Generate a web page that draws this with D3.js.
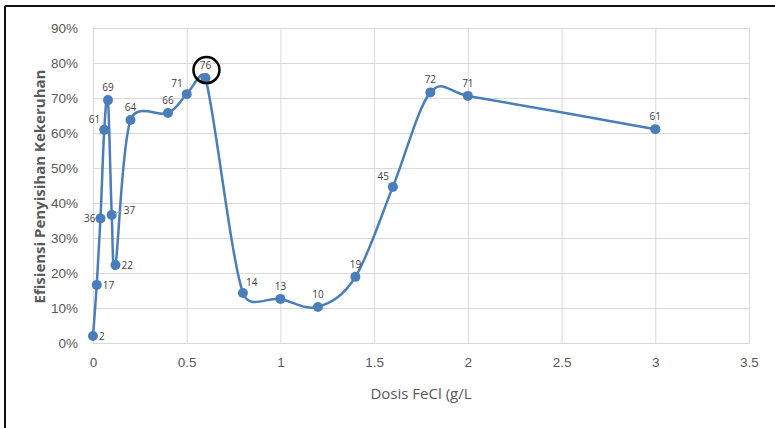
<!DOCTYPE html>
<html>
<head>
<meta charset="utf-8">
<script src="https://cdn.jsdelivr.net/npm/d3@7"></script>
<style>
  body { margin: 0; background: #fff; }
  svg { display: block; font-family: "Liberation Sans Narrow", "Open Sans", sans-serif; }
</style>
</head>
<body>
<svg width="775" height="428"></svg>
<script>
var svg = d3.select("svg");

// Data
var dosis = [0, 0.02, 0.04, 0.06, 0.08, 0.1, 0.12, 0.2, 0.4, 0.5, 0.6, 0.8, 1.0, 1.2, 1.4, 1.6, 1.8, 2.0, 3.0];
var efisiensi = [0.02, 0.166, 0.356, 0.609, 0.694, 0.366, 0.223, 0.637, 0.657, 0.711, 0.757, 0.143, 0.126, 0.103, 0.189, 0.446, 0.716, 0.706, 0.611];
var labelPos = ["r", "r", "l", "tl", "t", "rl", "r", "t", "t", "tl", "t", "tr", "t", "t", "t", "tl", "t", "t", "t"];
var xTicks = [0, 0.5, 1, 1.5, 2, 2.5, 3, 3.5];
var yTicks = [0, 0.1, 0.2, 0.3, 0.4, 0.5, 0.6, 0.7, 0.8, 0.9];

var data = dosis.map((d, i) => ({ x: d, y: efisiensi[i], pos: labelPos[i] }));

// Plot area
var margin = { top: 28, right: 26, bottom: 85, left: 93 };
var width = 775 - margin.left - margin.right;
var height = 428 - margin.top - margin.bottom;

var xScale = d3.scaleLinear().domain([0, 3.5]).range([0, width]);
var yScale = d3.scaleLinear().domain([0, 0.9]).range([height, 0]);

// Spreadsheet-style smoothing: bezier with 1/6 tangents, clamped to half a segment
function smoothCurve(context) {
    var pts;
    return {
        areaStart: function () {},
        areaEnd: function () {},
        lineStart: function () { pts = []; },
        point: function (x, y) { pts.push([+x, +y]); },
        lineEnd: function () {
            var n = pts.length;
            if (!n) return;
            context.moveTo(pts[0][0], pts[0][1]);
            var dist = (a, b) => Math.hypot(b[0] - a[0], b[1] - a[1]);
            for (var i = 0; i < n - 1; i++) {
                var p0 = pts[Math.max(i - 1, 0)], p1 = pts[i], p2 = pts[i + 1], p3 = pts[Math.min(i + 2, n - 1)];
                var d12 = dist(p1, p2), d02 = dist(p0, p2), d13 = dist(p1, p3);
                var f0 = (d02 / 6 < d12 / 2) ? 1 / 6 : d12 / (2 * d02);
                var f1 = (d13 / 6 < d12 / 2) ? 1 / 6 : d12 / (2 * d13);
                context.bezierCurveTo(
                    p1[0] + (p2[0] - p0[0]) * f0, p1[1] + (p2[1] - p0[1]) * f0,
                    p2[0] - (p3[0] - p1[0]) * f1, p2[1] - (p3[1] - p1[1]) * f1,
                    p2[0], p2[1]);
            }
        }
    };
}

// Frame around the figure
svg.append("line")
    .attr("x1", 5).attr("y1", 6).attr("x2", 775).attr("y2", 6)
    .attr("stroke", "#111").attr("stroke-width", 2);
svg.append("line")
    .attr("x1", 5).attr("y1", 6).attr("x2", 5).attr("y2", 428)
    .attr("stroke", "#111").attr("stroke-width", 2);

var chartG = svg.append("g")
    .attr("transform", "translate(" + margin.left + "," + margin.top + ")");

// Gridlines
chartG.append("g")
    .attr("class", "grid")
    .call(d3.axisLeft(yScale).tickValues(yTicks).tickSize(-width).tickFormat(""))
    .call(g => g.select(".domain").remove())
    .call(g => g.selectAll("line").attr("stroke", "#d9d9d9"));

chartG.append("g")
    .attr("class", "grid")
    .attr("transform", "translate(0," + height + ")")
    .call(d3.axisBottom(xScale).tickValues(xTicks).tickSize(-height).tickFormat(""))
    .call(g => g.select(".domain").remove())
    .call(g => g.selectAll("line").attr("stroke", "#d9d9d9"));

// Axes
var xAxis = chartG.append("g")
    .attr("transform", "translate(0," + height + ")")
    .call(d3.axisBottom(xScale).tickValues(xTicks).tickSize(0).tickPadding(14).tickFormat(d3.format("")));
xAxis.select(".domain").attr("stroke", "#d9d9d9");

var yAxis = chartG.append("g")
    .call(d3.axisLeft(yScale).tickValues(yTicks).tickSize(0).tickPadding(15).tickFormat(d3.format(".0%")));
yAxis.select(".domain").remove();

svg.selectAll(".tick text")
    .attr("fill", "#595959")
    .style("font-size", "13.5px");

// Axis titles
svg.append("text")
    .attr("x", margin.left + xScale(1.75))
    .attr("y", 399)
    .attr("text-anchor", "middle")
    .attr("fill", "#595959")
    .style("font-size", "15px")
    .text("Dosis FeCl (g/L");

svg.append("text")
    .attr("transform", "translate(45," + (margin.top + height / 2 + 1) + ") rotate(-90)")
    .attr("text-anchor", "middle")
    .attr("fill", "#595959")
    .style("font-size", "15px")
    .style("font-weight", "bold")
    .text("Efisiensi Penyisihan Kekeruhan");

// Smoothed line
var line = d3.line()
    .x(d => xScale(d.x))
    .y(d => yScale(d.y))
    .curve(smoothCurve);

chartG.append("path")
    .datum(data)
    .attr("fill", "none")
    .attr("stroke", "#4a7ebb")
    .attr("stroke-width", 2.5)
    .attr("d", line);

chartG.selectAll(".dot")
    .data(data)
    .enter().append("circle")
    .attr("class", "dot")
    .attr("cx", d => xScale(d.x))
    .attr("cy", d => yScale(d.y))
    .attr("r", 5)
    .attr("fill", "#4a7ebb");

// Data labels
var offsets = {
    t: [0, -9, "middle"],
    r: [6, 4, "start"],
    rl: [12, -1, "start"],
    l: [-5, 4, "end"],
    tl: [-4, -7, "end"],
    tr: [3, -7, "start"]
};

// leader line for the shifted label
chartG.selectAll(".leader")
    .data(data.filter(d => d.pos === "rl"))
    .enter().append("line")
    .attr("x1", d => xScale(d.x) + 3)
    .attr("y1", d => yScale(d.y) - 1)
    .attr("x2", d => xScale(d.x) + 10)
    .attr("y2", d => yScale(d.y) - 4)
    .attr("stroke", "#a6a6a6")
    .attr("stroke-width", 1);

chartG.selectAll(".lbl")
    .data(data)
    .enter().append("text")
    .attr("class", "lbl")
    .attr("x", d => xScale(d.x) + offsets[d.pos][0])
    .attr("y", d => yScale(d.y) + offsets[d.pos][1])
    .attr("text-anchor", d => offsets[d.pos][2])
    .attr("fill", "#404040")
    .style("font-size", "10px")
    .text(d => Math.round(d.y * 100));

// Highlight circle on the maximum
var best = data[d3.maxIndex(data, d => d.y)];
chartG.append("circle")
    .attr("cx", xScale(best.x) + 1)
    .attr("cy", yScale(best.y) - 8)
    .attr("r", 13)
    .attr("fill", "none")
    .attr("stroke", "#000")
    .attr("stroke-width", 2.5);
</script>
</body>
</html>
